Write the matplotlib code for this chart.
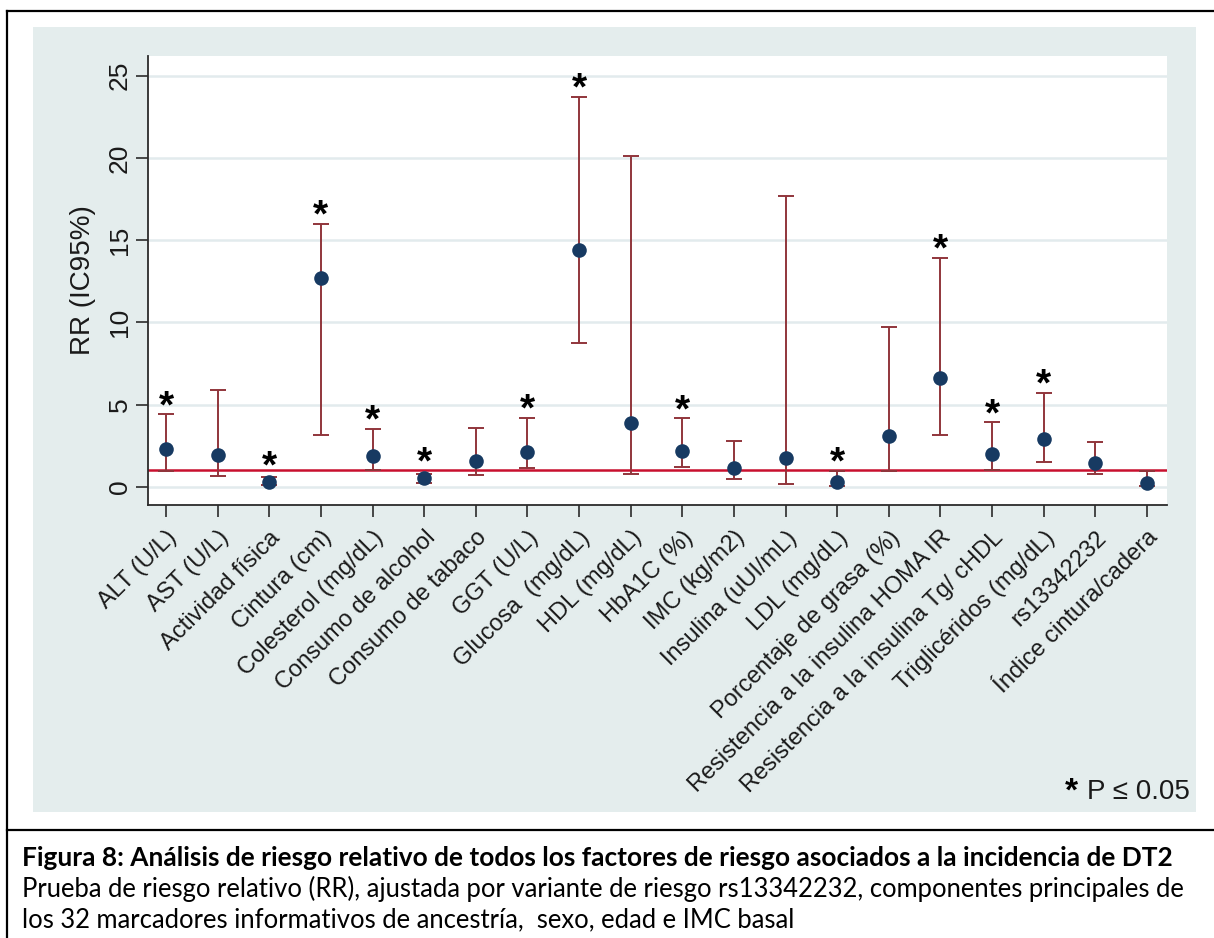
import matplotlib
matplotlib.use("Agg")
import matplotlib.pyplot as plt
from matplotlib.patches import Rectangle
from matplotlib.lines import Line2D
from matplotlib.transforms import ScaledTranslation
import numpy as np

# Riesgo relativo (RR) e intervalo de confianza al 95 % por factor
factores = [
    "ALT (U/L)", "AST (U/L)", "Actividad física", "Cintura (cm)",
    "Colesterol (mg/dL)", "Consumo de alcohol", "Consumo de tabaco",
    "GGT (U/L)", "Glucosa  (mg/dL)", "HDL (mg/dL)", "HbA1C (%)",
    "IMC (kg/m2)", "Insulina (uUI/mL)", "LDL (mg/dL)",
    "Porcentaje de grasa (%)", "Resistencia a la insulina HOMA IR",
    "Resistencia a la insulina Tg/ cHDL", "Triglicéridos (mg/dL)",
    "rs13342232", "Índice cintura/cadera",
]
rr = [2.29, 1.93, 0.30, 12.71, 1.87, 0.55, 1.58, 2.15, 14.40, 3.89,
      2.19, 1.12, 1.78, 0.28, 3.10, 6.65, 1.99, 2.92, 1.46, 0.21]
ic_inf = [0.97, 0.65, 0.12, 3.18, 1.01, 0.26, 0.73, 1.16, 8.76, 0.77,
          1.22, 0.47, 0.16, 0.06, 0.95, 3.18, 1.01, 1.50, 0.79, 0.05]
ic_sup = [4.42, 5.92, 0.60, 16.00, 3.55, 0.81, 3.59, 4.22, 23.70, 20.11,
          4.16, 2.78, 17.70, 0.97, 9.71, 13.93, 3.93, 5.72, 2.74, 0.97]
significativo = [1, 0, 1, 1, 1, 1, 0, 1, 1, 0,
                 1, 0, 0, 1, 0, 1, 1, 1, 0, 0]
valor_referencia = 1.0
y_ticks = [0, 5, 10, 15, 20, 25]

titulo = ("Figura 8: Análisis de riesgo relativo de todos los factores de "
          "riesgo asociados a la incidencia de DT2")
pie = [
    "Prueba de riesgo relativo (RR), ajustada por variante de riesgo "
    "rs13342232, componentes principales de",
    "los 32 marcadores informativos de ancestría,  sexo, edad e IMC basal",
]
nota = "P ≤ 0.05"

W, H = 1214, 938
fig = plt.figure(figsize=(W / 100, H / 100), dpi=100)
fig.patch.set_facecolor("white")


def fx(px):
    return px / W


def fy(py):
    return 1 - py / H


SANS = "Liberation Sans"
NAVY = "#173a62"
MAROON = "#90353b"
RED = "#c8102e"
PANEL = "#e4eded"

# graph region background and the table frame around figure and caption
fig.add_artist(Rectangle((fx(33), fy(812)), fx(1196) - fx(33), fy(27) - fy(812),
                         transform=fig.transFigure, facecolor=PANEL,
                         edgecolor="none", zorder=0))
for xs, ys in [([fx(7), 1.0], [fy(11), fy(11)]),
               ([fx(7), fx(7)], [fy(11), 0.0]),
               ([fx(7), 1.0], [fy(830), fy(830)])]:
    fig.add_artist(Line2D(xs, ys, color="black", lw=1.6,
                          transform=fig.transFigure))

ax = fig.add_axes([fx(147.5), fy(505), fx(1167) - fx(147.5), fy(56) - fy(505)])
ax.set_facecolor("white")
x = np.arange(len(factores))
rr_a = np.array(rr)
lo_a = np.array(ic_inf)
hi_a = np.array(ic_sup)

ax.set_xlim(-0.36, len(factores) - 1 + 0.39)
ax.set_ylim(-1.1, 26.2)
ax.set_yticks(y_ticks)
ax.set_yticklabels([str(t) for t in y_ticks], rotation=90, va="center",
                   fontsize=19, family=SANS)
ax.set_xticks(x)
ax.set_xticklabels(factores, rotation=45, ha="right", rotation_mode="anchor",
                   fontsize=17, family=SANS)
shift = ScaledTranslation(-8 / 100, -2 / 100, fig.dpi_scale_trans)
for lab in ax.get_xticklabels():
    lab.set_transform(lab.get_transform() + shift)
ax.grid(axis="y", color="#e2ebed", lw=1.8)
ax.grid(axis="x", visible=False)
ax.set_axisbelow(True)

for side in ("top", "right"):
    ax.spines[side].set_visible(False)
for side in ("left", "bottom"):
    ax.spines[side].set_color("#2b2b2b")
    ax.spines[side].set_linewidth(1.3)
ax.tick_params(axis="both", length=8.5, width=1.2, color="#2b2b2b",
               labelcolor="#1a1a1a")
ax.tick_params(axis="y", pad=3)
ax.tick_params(axis="x", pad=7)

ax.axhline(valor_referencia, color=RED, lw=1.8, zorder=2)
ax.errorbar(x, rr_a, yerr=[rr_a - lo_a, hi_a - rr_a], fmt="none",
            ecolor=MAROON, elinewidth=1.4, capsize=5.5, capthick=1.4,
            zorder=3)
ax.plot(x, rr_a, "o", color=NAVY, ms=10.5, mec="none", zorder=4)

# significance marks above each upper limit
for xi, r, h, s in zip(x, rr_a, hi_a, significativo):
    if s:
        ax.annotate("*", (xi, max(h, r + 0.45)), xytext=(0, -2),
                    textcoords="offset points", ha="center", va="baseline",
                    fontsize=28, fontweight="bold", family=SANS,
                    color="black", zorder=5)

ax.set_ylabel("RR (IC95%)", fontsize=20, family=SANS, color="#1a1a1a")
ax.yaxis.set_label_coords((96 - 147.5) / (1167 - 147.5), 0.5)

# legend note for the significance mark
fig.text(fx(1190), fy(799), nota, ha="right", va="baseline", fontsize=20,
         family=SANS, color="#1a1a1a")
fig.text(fx(1071), fy(801), "*", ha="center", va="baseline", fontsize=24,
         fontweight="bold", family=SANS, color="black")

# caption below the graph
renderer = fig.canvas.get_renderer()


def fitted_text(px_x, px_y, s, width_px, weight):
    t = fig.text(fx(px_x), fy(px_y), s, ha="left", va="baseline",
                 fontsize=15, fontweight=weight, family="Lato", color="black")
    w = t.get_window_extent(renderer).width
    t.set_fontsize(15 * width_px / w)
    return t


fitted_text(22, 866, titulo, 1153, "bold")
t2 = fitted_text(22, 897, pie[0], 1166, "normal")
fig.text(fx(22), fy(927), pie[1], ha="left", va="baseline",
         fontsize=t2.get_fontsize(), family="Lato", color="black")

fig.savefig("out.png", dpi=100, facecolor="white")
